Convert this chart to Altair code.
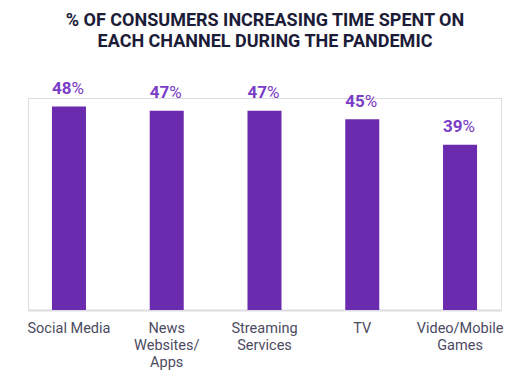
import altair as alt
import pandas as pd

categories = ["Social Media", "News|Websites/|Apps", "Streaming|Services", "TV", "Video/Mobile|Games"]
values = [48, 47, 47, 45, 39]
numbers = ["48", "47", "47", "45", "39"]
pct_sign = ["%", "%", "%", "%", "%"]

df = pd.DataFrame({"cat": categories, "val": values, "num": numbers, "pct": pct_sign})

BAR = "#6B2BAF"
TXT = "#7A3DC6"

x = alt.X("cat:N", sort=categories, title=None,
          scale=alt.Scale(paddingInner=0.652, paddingOuter=0.245),
          axis=alt.Axis(labelAngle=0, labelExpr="split(datum.label, '|')",
                        labelFontSize=14.5, labelFont="Roboto", labelColor="#4b4b62",
                        labelLineHeight=17, labelPadding=11, ticks=False,
                        domainColor="#dcdce2", domainWidth=2, labelLimit=200))
y = alt.Y("val:Q", scale=alt.Scale(domain=[0, 50], nice=False), axis=None)

base = alt.Chart(df).encode(x=x, y=y)
bars = base.mark_bar(color=BAR)
nums = base.mark_text(font="Roboto", fontSize=17, fontWeight="bold", color=TXT,
                      align="right", baseline="alphabetic", dx=2.5, dy=-12.4).encode(text="num:N")
pcts = base.mark_text(font="Roboto", fontSize=17, fontWeight="normal", color=TXT,
                      align="left", baseline="alphabetic", dx=2.5, dy=-12.4).encode(text="pct:N")

chart = (bars + nums + pcts).properties(
    width=473, height=212,
    autosize=alt.AutoSizeParams(type="none"),
    padding={"left": 28, "top": 98, "right": 7, "bottom": 67},
    title=alt.TitleParams(
        ["% OF CONSUMERS INCREASING TIME SPENT ON", "EACH CHANNEL DURING THE PANDEMIC"],
        font="Roboto", fontSize=18, fontWeight="bold", color="#1c1c38",
        anchor="middle", frame="group", offset=29, lineHeight=21, dx=0.5),
).configure_view(strokeWidth=0, stroke="transparent").configure(background="white")

chart.save("out.html", embed_options={"renderer": "svg", "actions": False})
